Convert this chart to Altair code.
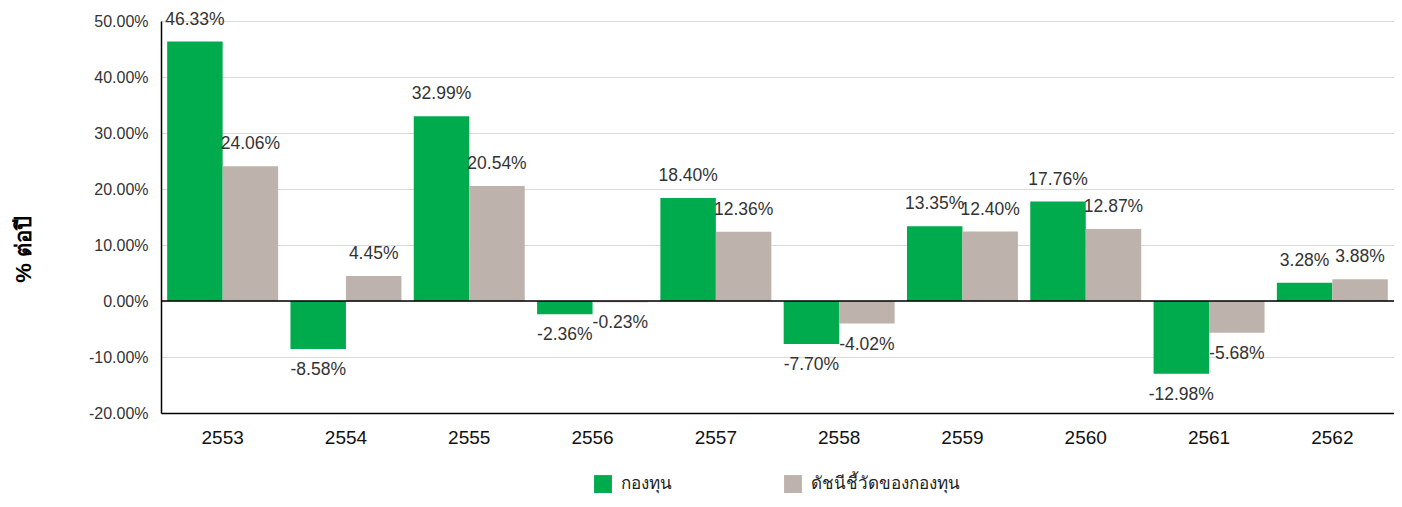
import altair as alt
import pandas as pd

years = ["2553", "2554", "2555", "2556", "2557", "2558", "2559", "2560", "2561", "2562"]
fund = [46.33, -8.58, 32.99, -2.36, 18.40, -7.70, 13.35, 17.76, -12.98, 3.28]
bench = [24.06, 4.45, 20.54, -0.23, 12.36, -4.02, 12.40, 12.87, -5.68, 3.88]
series = ["กองทุน", "ดัชนีชี้วัดของกองทุน"]
colors = ["#00AB4E", "#BDB2AC"]
y_ticks = [-0.2, -0.1, 0.0, 0.1, 0.2, 0.3, 0.4, 0.5]

rows = []
for i, y in enumerate(years):
    rows.append({"year": y, "series": series[0], "pct": fund[i]})
    rows.append({"year": y, "series": series[1], "pct": bench[i]})
df = pd.DataFrame(rows)

FONT = "Liberation Sans"

base = alt.Chart(df).transform_calculate(
    v="datum.pct / 100",
    lbl="replace(format(datum.pct / 100, '.2%'), '\u2212', '-')",
)

x_enc = alt.X("year:N", sort=years, title=None,
              scale=alt.Scale(paddingInner=0.1, paddingOuter=0.05),
              axis=alt.Axis(labelAngle=0, labelFontSize=19, labelColor="#111",
                            labelFont=FONT, labelPadding=15, ticks=False,
                            domain=True, domainColor="#000", domainWidth=1.5, grid=False))
y_scale = alt.Scale(domain=[-0.2, 0.5], nice=False)
xoff = alt.XOffset("series:N", sort=series)

bars = base.mark_bar().encode(
    x=x_enc,
    xOffset=xoff,
    y=alt.Y("v:Q", scale=y_scale, title="% ต่อปี",
            axis=alt.Axis(values=y_ticks, format=".2%",
                          labelExpr="replace(datum.label, '\u2212', '-')",
                          labelFontSize=16,
                          labelColor="#333", labelFont=FONT, labelPadding=13,
                          ticks=False, domain=True, domainColor="#000", domainWidth=1.5,
                          gridColor="#d9d9d9", gridWidth=1,
                          titleFontSize=22, titleFontWeight="bold", titleColor="#000",
                          titleAngle=-90, titleX=-138, titleY=228,
                          titleAlign="center", titleBaseline="middle")),
    color=alt.Color("series:N", sort=series,
                    scale=alt.Scale(domain=series, range=colors),
                    legend=alt.Legend(title=None, orient="none", direction="horizontal",
                                      legendX=433, legendY=454,
                                      symbolType="square", symbolSize=320,
                                      symbolStrokeWidth=0, labelFontSize=17,
                                      labelColor="#222", columnPadding=112,
                                      labelOffset=9)),
)

pos_labels = base.transform_filter("datum.pct >= 0").mark_text(
    fontSize=17.5, color="#333", font=FONT, baseline="middle", dy=-22
).encode(x=alt.X("year:N", sort=years), xOffset=xoff,
         y=alt.Y("v:Q", scale=y_scale), text="lbl:N")

neg_labels = base.transform_filter("datum.pct < 0").mark_text(
    fontSize=17.5, color="#333", font=FONT, baseline="middle", dy=21
).encode(x=alt.X("year:N", sort=years), xOffset=xoff,
         y=alt.Y("v:Q", scale=y_scale), text="lbl:N")

zero = alt.Chart(pd.DataFrame({"z": [0.0]})).mark_rule(color="#000", strokeWidth=1.5).encode(
    y=alt.Y("z:Q", scale=y_scale)
)

chart = alt.layer(bars, zero, pos_labels, neg_labels).properties(
    width=1233, height=392,
    autosize=alt.AutoSizeParams(type="none"),
    padding={"left": 153, "top": 13, "right": 0, "bottom": 86},
).configure_view(stroke="#666", strokeWidth=1.5).configure(background="white")

chart.save("out.html", embed_options={"renderer": "svg", "actions": False})
